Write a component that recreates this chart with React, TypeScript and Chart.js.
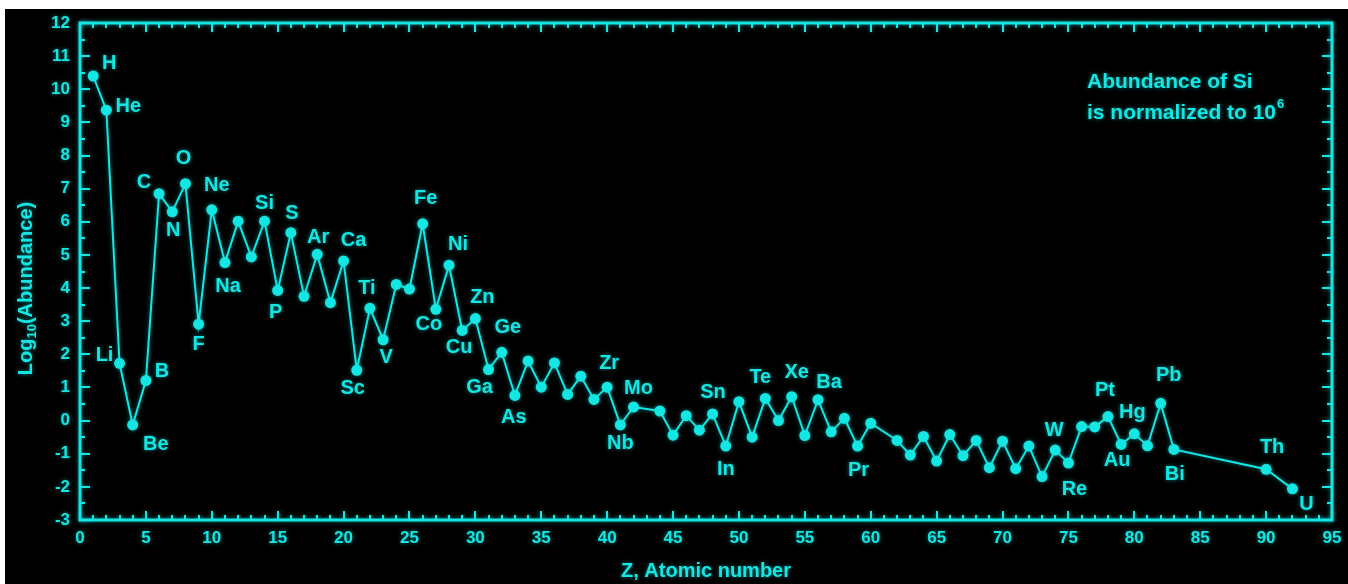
import React, { useEffect, useRef } from "react";
import { Chart, registerables } from "chart.js";

Chart.register(...registerables);

// ---------- data ----------
const atomicNumbers = [
  1, 2, 3, 4, 5, 6, 7, 8, 9, 10, 11, 12, 13, 14, 15, 16, 17, 18, 19, 20,
  21, 22, 23, 24, 25, 26, 27, 28, 29, 30, 31, 32, 33, 34, 35, 36, 37, 38, 39, 40,
  41, 42, 44, 45, 46, 47, 48, 49, 50, 51, 52, 53, 54, 55, 56, 57, 58, 59, 60,
  62, 63, 64, 65, 66, 67, 68, 69, 70, 71, 72, 73, 74, 75, 76, 77, 78, 79, 80,
  81, 82, 83, 90, 92,
];

const logAbundance = [
  10.40, 9.37, 1.73, -0.13, 1.21, 6.85, 6.30, 7.15, 2.91, 6.36, 4.77, 6.02, 4.94, 6.02, 3.93, 5.67, 3.75, 5.02, 3.56, 4.82,
  1.52, 3.39, 2.44, 4.11, 3.97, 5.94, 3.36, 4.69, 2.72, 3.08, 1.54, 2.06, 0.76, 1.80, 1.01, 1.74, 0.79, 1.34, 0.64, 1.01,
  -0.13, 0.41, 0.29, -0.44, 0.15, -0.29, 0.20, -0.77, 0.57, -0.50, 0.67, 0.00, 0.72, -0.45, 0.63, -0.34, 0.07, -0.77, -0.08,
  -0.60, -1.04, -0.48, -1.22, -0.42, -1.06, -0.60, -1.42, -0.62, -1.45, -0.77, -1.69, -0.89, -1.28, -0.18, -0.19, 0.12, -0.72, -0.40,
  -0.76, 0.52, -0.87, -1.47, -2.06,
];

const labelSymbols = [
  "H", "He", "Li", "Be", "B", "C", "N", "O", "F", "Ne", "Na", "Si", "P", "S", "Ar", "Ca",
  "Sc", "Ti", "V", "Fe", "Co", "Ni", "Cu", "Zn", "Ga", "Ge", "As", "Zr", "Nb", "Mo",
  "Sn", "In", "Te", "Xe", "Ba", "Pr", "W", "Re", "Pt", "Au", "Hg", "Pb", "Bi", "Th", "U",
];
const labelAtomicNumbers = [
  1, 2, 3, 4, 5, 6, 7, 8, 9, 10, 11, 14, 15, 16, 18, 20,
  21, 22, 23, 26, 27, 28, 29, 30, 31, 32, 33, 40, 41, 42,
  50, 49, 52, 54, 56, 59, 74, 75, 78, 79, 80, 82, 83, 90, 92,
];

const xTickValues = [0, 5, 10, 15, 20, 25, 30, 35, 40, 45, 50, 55, 60, 65, 70, 75, 80, 85, 90, 95];
const yTickValues = [-3, -2, -1, 0, 1, 2, 3, 4, 5, 6, 7, 8, 9, 10, 11, 12];

const xTitle = "Z, Atomic number";
const yTitleMain = "Log";
const yTitleSub = "10";
const yTitleRest = "(Abundance)";
const noteLine1 = "Abundance of Si";
const noteLine2 = "is normalized to 10";
const noteSup = "6";

// ---------- styling / label placement (pixels relative to the point) ----------
const labelOffsets: Record<string, [number, number]> = {
  H: [16, -13], He: [22, -4], Li: [-15, -8], Be: [23, 20], B: [16, -9], C: [-15, -11],
  N: [1, 19], O: [-2, -25], F: [0, 20], Ne: [5, -24], Na: [3, 24], Si: [0, -18],
  P: [-2, 22], S: [1, -19], Ar: [1, -17], Ca: [10, -20], Sc: [-4, 18], Ti: [-3, -20],
  V: [3, 18], Fe: [3, -25], Co: [-7, 15], Ni: [9, -21], Cu: [-3, 17], Zn: [7, -21],
  Ga: [-9, 18], Ge: [6, -25], As: [-1, 22], Zr: [2, -24], Nb: [0, 19], Mo: [5, -19],
  Sn: [-26, -9], In: [0, 23], Te: [-5, -21], Xe: [5, -24], Ba: [11, -17], Pr: [1, 24],
  W: [-1, -20], Re: [6, 26], Pt: [-3, -26], Au: [-4, 16], Hg: [-2, -21], Pb: [8, -28],
  Bi: [1, 25], Th: [6, -22], U: [14, 16],
};

const CYAN = "#14e6e3";
const FONT = "'Liberation Sans', Arial, Helvetica, sans-serif";
const GLOW = "rgba(20,230,227,0.55)";

const framePlugin = {
  id: "framePlugin",
  beforeDraw(chart: any) {
    const ctx = chart.ctx;
    ctx.save();
    ctx.fillStyle = "#000";
    ctx.fillRect(0, 0, chart.width, chart.height);
    ctx.restore();
    ctx.shadowColor = GLOW;
    ctx.shadowBlur = 4;
  },
  afterDatasetsDraw(chart: any) {
    const ctx = chart.ctx;
    const xs = chart.scales.x;
    const ys = chart.scales.y;
    ctx.save();
    ctx.shadowColor = GLOW;
    ctx.shadowBlur = 4;
    ctx.fillStyle = CYAN;
    ctx.font = `bold 20px ${FONT}`;
    ctx.textAlign = "center";
    ctx.textBaseline = "middle";
    labelSymbols.forEach((sym, i) => {
      const z = labelAtomicNumbers[i];
      const idx = atomicNumbers.indexOf(z);
      if (idx < 0) return;
      const px = xs.getPixelForValue(z);
      const py = ys.getPixelForValue(logAbundance[idx]);
      const off = labelOffsets[sym] || [0, -18];
      ctx.fillText(sym, px + off[0], py + off[1]);
    });
    ctx.restore();
  },
  afterDraw(chart: any) {
    const ctx = chart.ctx;
    const ca = chart.chartArea;
    const xs = chart.scales.x;
    const ys = chart.scales.y;
    ctx.save();
    ctx.shadowColor = GLOW;
    ctx.shadowBlur = 4;
    ctx.strokeStyle = CYAN;
    ctx.lineWidth = 3;
    ctx.lineCap = "square";
    ctx.strokeRect(ca.left, ca.top, ca.right - ca.left, ca.bottom - ca.top);

    ctx.lineWidth = 2;
    ctx.lineCap = "butt";
    ctx.beginPath();
    for (let v = xs.min; v <= xs.max; v += 1) {
      const px = Math.round(xs.getPixelForValue(v));
      const len = v % 5 === 0 ? 9 : 5;
      ctx.moveTo(px, ca.bottom);
      ctx.lineTo(px, ca.bottom - len);
      ctx.moveTo(px, ca.top);
      ctx.lineTo(px, ca.top + len);
    }
    for (let v = ys.min; v <= ys.max + 1e-9; v += 0.5) {
      const py = Math.round(ys.getPixelForValue(v));
      const len = Math.abs(v % 1) < 1e-9 ? 10 : 5;
      ctx.moveTo(ca.left, py);
      ctx.lineTo(ca.left + len, py);
      ctx.moveTo(ca.right, py);
      ctx.lineTo(ca.right - len, py);
    }
    ctx.stroke();

    // y-axis title with subscript
    ctx.fillStyle = CYAN;
    ctx.textBaseline = "middle";
    ctx.textAlign = "left";
    const bigFont = `bold 20px ${FONT}`;
    const subFont = `bold 13px ${FONT}`;
    ctx.font = bigFont;
    const w1 = ctx.measureText(yTitleMain).width;
    const w3 = ctx.measureText(yTitleRest).width;
    ctx.font = subFont;
    const w2 = ctx.measureText(yTitleSub).width;
    const total = w1 + w2 + w3;
    const cx = 21;
    const cy = (ca.top + ca.bottom) / 2 + 17;
    ctx.translate(cx, cy);
    ctx.rotate(-Math.PI / 2);
    let x0 = -total / 2;
    ctx.font = bigFont;
    ctx.fillText(yTitleMain, x0, 0);
    x0 += w1;
    ctx.font = subFont;
    ctx.fillText(yTitleSub, x0, 6);
    x0 += w2;
    ctx.font = bigFont;
    ctx.fillText(yTitleRest, x0, 0);
    ctx.setTransform(1, 0, 0, 1, 0, 0);

    // note
    ctx.font = `bold 21px ${FONT}`;
    ctx.textAlign = "left";
    ctx.textBaseline = "middle";
    const nx = ca.right - 245;
    ctx.fillText(noteLine1, nx, ca.top + 59);
    ctx.fillText(noteLine2, nx, ca.top + 90);
    const wn = ctx.measureText(noteLine2).width;
    ctx.font = `bold 13px ${FONT}`;
    ctx.fillText(noteSup, nx + wn + 1, ca.top + 81);
    ctx.restore();
    ctx.shadowBlur = 0;
    ctx.shadowColor = "rgba(0,0,0,0)";
  },
};

function App() {
  const canvasRef = useRef<HTMLCanvasElement | null>(null);

  useEffect(() => {
    const canvas = canvasRef.current;
    if (!canvas) return;
    const points = atomicNumbers.map((z, i) => ({ x: z, y: logAbundance[i] }));
    const chart = new Chart(canvas, {
      type: "line",
      data: {
        datasets: [
          {
            data: points,
            borderColor: CYAN,
            backgroundColor: CYAN,
            borderWidth: 2,
            pointRadius: 5.5,
            pointBorderWidth: 0,
            pointBackgroundColor: CYAN,
            tension: 0,
            fill: false,
          },
        ],
      },
      options: {
        animation: false,
        responsive: false,
        events: [],
        layout: { padding: { left: 0, top: 14, right: 16, bottom: 0 } },
        plugins: {
          legend: { display: false },
          tooltip: { enabled: false },
          title: { display: false },
        },
        scales: {
          x: {
            type: "linear",
            min: 0,
            max: 95,
            afterBuildTicks: (s: any) => {
              s.ticks = xTickValues.map((v) => ({ value: v }));
            },
            afterFit: (s: any) => {
              s.height = 64;
              s.paddingLeft = 0;
              s.paddingRight = 0;
            },
            ticks: {
              color: CYAN,
              font: { family: FONT, size: 17, weight: "bold" },
              padding: 8,
              maxRotation: 0,
              autoSkip: false,
            },
            grid: { display: false, drawTicks: false },
            border: { display: false },
            title: {
              display: true,
              text: xTitle,
              color: CYAN,
              font: { family: FONT, size: 20, weight: "bold" },
              padding: { top: 0, bottom: 1 },
            },
          },
          y: {
            type: "linear",
            min: -3,
            max: 12,
            afterBuildTicks: (s: any) => {
              s.ticks = yTickValues.map((v) => ({ value: v }));
            },
            afterFit: (s: any) => {
              s.width = 75;
              s.paddingTop = 0;
              s.paddingBottom = 0;
            },
            ticks: {
              color: CYAN,
              font: { family: FONT, size: 17, weight: "bold" },
              padding: 10,
              autoSkip: false,
            },
            grid: { display: false, drawTicks: false },
            border: { display: false },
            title: { display: false },
          },
        },
      },
      plugins: [framePlugin],
    } as any);
    return () => chart.destroy();
  }, []);

  return (
    <div style={{ position: "fixed", left: 0, top: 0, width: 1348, height: 584, background: "#fff", overflow: "hidden" }}>
      <div style={{ position: "absolute", left: 5, top: 9, width: 1343, height: 575, background: "#000" }}>
        <canvas ref={canvasRef} width={1343} height={575} style={{ display: "block", width: 1343, height: 575 }} />
      </div>
    </div>
  );
}

export default App;
